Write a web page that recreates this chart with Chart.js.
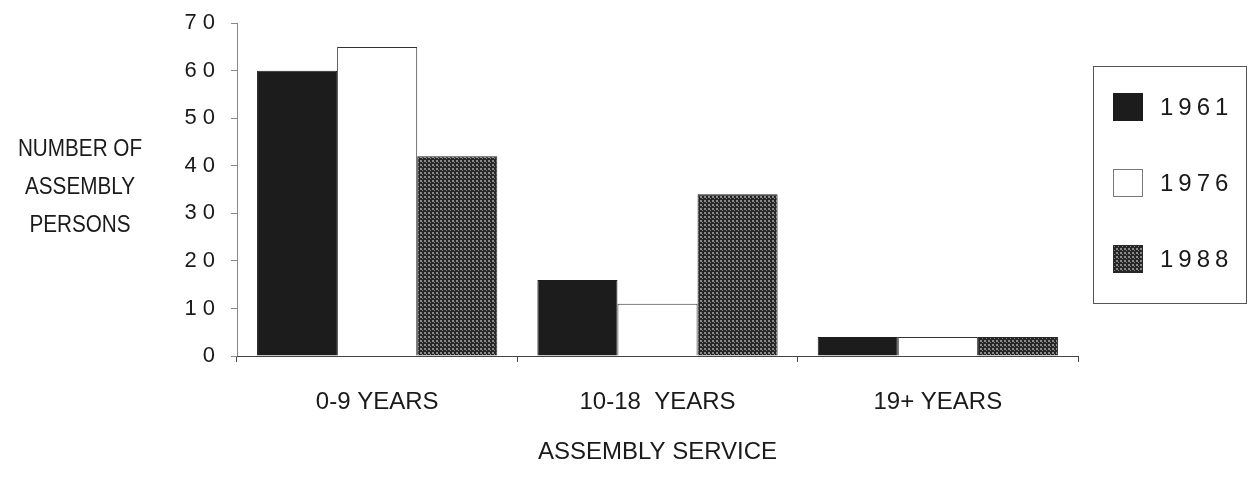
<!DOCTYPE html>
<html>
<head>
<meta charset="utf-8">
<script src="https://cdn.jsdelivr.net/npm/chart.js@4.4.1/dist/chart.umd.min.js"></script>
<style>
  html, body { margin: 0; padding: 0; background: #fff; }
  #wrap { width: 1248px; height: 477px; position: relative; }
</style>
</head>
<body>
<div id="wrap"><canvas id="chartBar"></canvas></div>
<script>
const categories = ["0-9 YEARS", "10-18  YEARS", "19+ YEARS"]
const years = ["1961", "1976", "1988"]
const values1961 = [60, 16, 4]
const values1976 = [65, 11, 4]
const values1988 = [42, 34, 4]
const yTicks = [0, 10, 20, 30, 40, 50, 60, 70]
const yTitleLines = ["NUMBER OF", "ASSEMBLY", "PERSONS"]
const xTitle = "ASSEMBLY SERVICE"

// dotted dark grey fill like the old print screen
function makeDots() {
    const tile = document.createElement("canvas")
    tile.width = 4
    tile.height = 4
    const t = tile.getContext("2d")
    t.fillStyle = "#262626"
    t.fillRect(0, 0, 4, 4)
    t.fillStyle = "#8a8a8a"
    t.fillRect(0, 0, 2, 2)
    t.fillRect(2, 2, 1, 1)
    return t.createPattern(tile, "repeat")
}
const dots = makeDots()

const fontMain = "'Liberation Sans', Arial, sans-serif"

const yTitlePlugin = {
    id: "yTitle",
    afterDraw(chart) {
        const ctx = chart.ctx
        ctx.save()
        ctx.letterSpacing = "0px"
        ctx.fillStyle = "#1a1a1a"
        ctx.font = "23px " + fontMain
        ctx.textAlign = "center"
        ctx.textBaseline = "middle"
        yTitleLines.forEach(function (line, i) {
            ctx.save()
            ctx.translate(80, 150 + i * 38)
            ctx.scale(0.9, 1)
            ctx.fillText(line, 0, 0)
            ctx.restore()
        })
        ctx.restore()
    },
}

const boxLegendPlugin = {
    id: "boxLegend",
    afterDraw(chart) {
        const ctx = chart.ctx
        const left = 1093, top = 66, right = 1246, bottom = 303
        ctx.save()
        ctx.strokeStyle = "#555"
        ctx.lineWidth = 1
        ctx.strokeRect(left + 0.5, top + 0.5, right - left, bottom - top)
        ctx.font = "24px " + fontMain
        ctx.letterSpacing = "5px"
        ctx.textBaseline = "middle"
        ctx.textAlign = "left"
        chart.data.datasets.forEach(function (ds, i) {
            const cy = 107 + i * 76
            ctx.fillStyle = ds.backgroundColor
            ctx.fillRect(1113, cy - 14, 30, 28)
            ctx.strokeStyle = i === 1 ? "#777" : ds.borderColor
            ctx.strokeRect(1113.5, cy - 13.5, 29, 27)
            ctx.fillStyle = "#1a1a1a"
            ctx.fillText(ds.label, 1160, cy + 1)
        })
        ctx.restore()
    },
}

// spaced digits on the y axis only: y scale draws before the bars, x scale layers after (z = 1)
const spacingPlugin = {
    id: "spacing",
    beforeDraw(chart) {
        chart.ctx.letterSpacing = "6px"
    },
    beforeDatasetsDraw(chart) {
        chart.ctx.letterSpacing = "0px"
    },
}

const data = {
    labels: categories,
    datasets: [
        {
            label: years[0],
            data: values1961,
            backgroundColor: "#1c1c1c",
            borderColor: "#1c1c1c",
            borderWidth: 1,
        },
        {
            label: years[1],
            data: values1976,
            backgroundColor: "#ffffff",
            borderColor: "#333",
            borderWidth: 1,
        },
        {
            label: years[2],
            data: values1988,
            backgroundColor: dots,
            borderColor: "#262626",
            borderWidth: 1,
        },
    ],
}

const config = {
    type: "bar",
    data: data,
    options: {
        responsive: false,
        animation: false,
        devicePixelRatio: 1,
        layout: { padding: { top: 18, right: 170, left: 0, bottom: 0 } },
        plugins: {
            legend: { display: false },
            tooltip: { enabled: false },
        },
        datasets: {
            bar: { categoryPercentage: 0.857, barPercentage: 1.0 },
        },
        scales: {
            x: {
                grid: {
                    z: 1,
                    offset: true,
                    drawOnChartArea: false,
                    drawTicks: true,
                    tickLength: 6,
                    color: "#444",
                },
                border: { color: "#444", width: 1, z: 1 },
                ticks: {
                    z: 1,
                    color: "#1a1a1a",
                    padding: 26,
                    font: { family: fontMain, size: 24 },
                },
                title: {
                    display: true,
                    text: xTitle,
                    color: "#1a1a1a",
                    font: { family: fontMain, size: 24 },
                    padding: { top: 0, bottom: 10 },
                },
                afterFit(scale) {
                    scale.height = 121
                },
            },
            y: {
                min: 0,
                max: 70,
                afterBuildTicks(scale) {
                    scale.ticks = yTicks.map(function (v) { return { value: v } })
                },
                grid: {
                    drawOnChartArea: false,
                    tickLength: 6,
                    color: "#888",
                },
                border: { color: "#888", width: 1 },
                ticks: {
                    color: "#1a1a1a",
                    padding: 10,
                    font: { family: fontMain, size: 22 },
                },
                afterFit(scale) {
                    scale.width = 237
                },
            },
        },
    },
    plugins: [spacingPlugin, yTitlePlugin, boxLegendPlugin],
}

const canvas = document.getElementById("chartBar")
canvas.width = 1248
canvas.height = 477
var chartBar = new Chart(canvas, config)
</script>
</body>
</html>
